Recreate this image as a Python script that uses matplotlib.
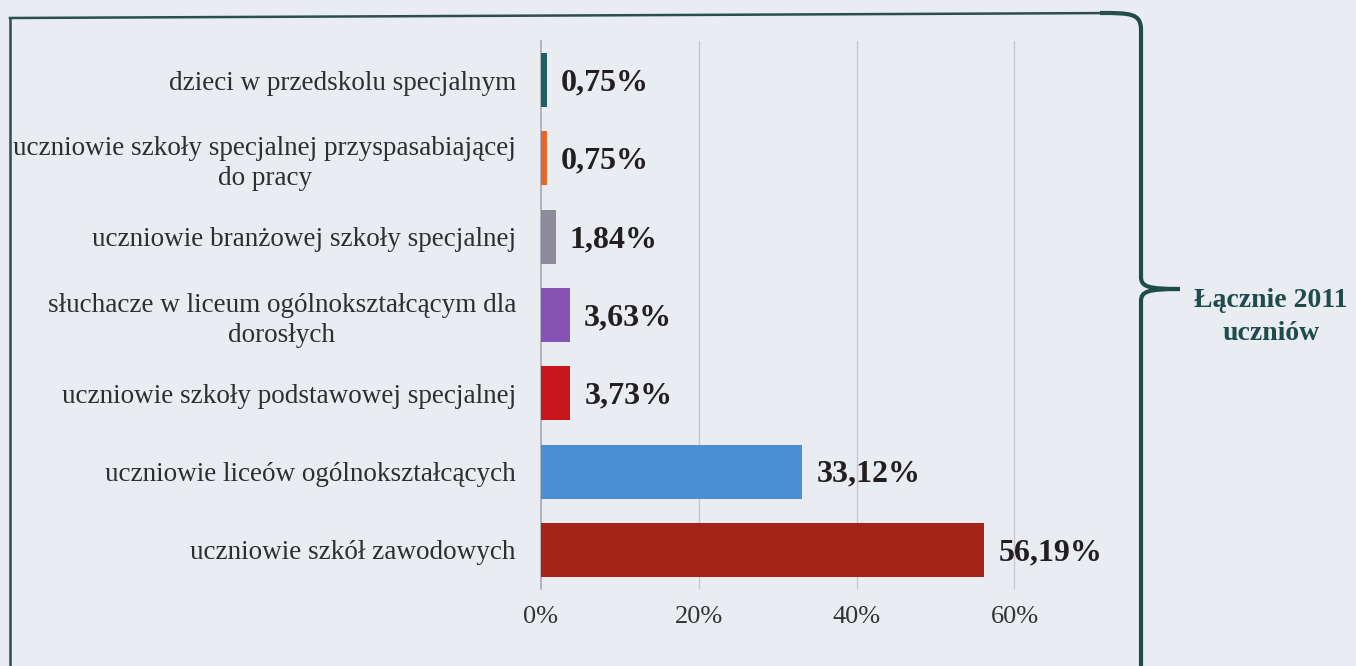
import numpy as np
import matplotlib.pyplot as plt
from matplotlib.path import Path
from matplotlib.patches import PathPatch

categories = [
    'dzieci w przedskolu specjalnym',
    'uczniowie szkoły specjalnej przyspasabiającej\ndo pracy',
    'uczniowie branżowej szkoły specjalnej',
    'słuchacze w liceum ogólnokształcącym dla\ndorosłych',
    'uczniowie szkoły podstawowej specjalnej',
    'uczniowie liceów ogólnokształcących',
    'uczniowie szkół zawodowych',
]
values = [0.75, 0.75, 1.84, 3.63, 3.73, 33.12, 56.19]
colors = ['#1F5F60', '#E8642C', '#8D8A9C', '#8653B5', '#C8161C', '#4A8FD4', '#A52418']
xticks = [0, 20, 40, 60]
total_label = 'Łącznie 2011\nuczniów'

paper = '#E9EDF2'
plt.rcParams['font.family'] = ['Liberation Serif', 'DejaVu Serif']

fig = plt.figure(figsize=(13.56, 6.66), dpi=100)
fig.patch.set_facecolor(paper)

W, H = 1356, 666
ax = fig.add_axes([541 / W, 1 - 589 / H, 505 / W, 548 / H])
ax.set_facecolor('none')

y = np.arange(len(categories))
ax.barh(y, values, height=0.69, color=colors, zorder=3)
ax.set_ylim(len(categories) - 0.5, -0.5)
ax.set_xlim(0, 64)

for yi, v in zip(y, values):
    ax.annotate(f'{v:.2f}'.replace('.', ',') + '%', (v, yi), xytext=(10, -2),
                textcoords='offset points', ha='left', va='center',
                fontsize=23, fontweight='bold', color='#231F20', zorder=4)

ax.set_yticks(y)
ax.set_yticklabels(categories, fontsize=19.5, color='#2E2E2E', linespacing=1.25)
for lbl in ax.get_yticklabels():
    lbl.set_multialignment('center')
ax.tick_params(axis='y', length=0, pad=18)

ax.set_xticks(xticks)
ax.set_xticklabels([f'{t}%' for t in xticks], fontsize=19, color='#333333')
ax.tick_params(axis='x', length=0, pad=12)

for t in xticks[1:]:
    ax.axvline(t, color='#D0C4CC', linewidth=1.0, zorder=1)

for s in ['top', 'right', 'bottom']:
    ax.spines[s].set_visible(False)
ax.spines['left'].set_color('#A8A8B0')
ax.spines['left'].set_linewidth(1.2)

# frame + brace drawn on an overlay in pixel coords
ov = fig.add_axes([0, 0, 1, 1], zorder=-1)
ov.set_xlim(0, W)
ov.set_ylim(H, 0)
ov.axis('off')
frame_col = '#2C4F48'
ov.plot([10, 1120], [18, 13], color=frame_col, linewidth=1.8)
ov.plot([10, 10], [18, H], color=frame_col, linewidth=1.8)

bx, tipx, tipy = 1141, 1180, 289
verts = [
    (1100, 13), (1130, 13), (1141, 13), (bx, 30),
    (bx, tipy - 12),
    (bx, tipy - 2), (bx + 8, tipy), (tipx, tipy),
    (bx + 8, tipy), (bx, tipy + 2), (bx, tipy + 12),
    (bx, H),
]
codes = [Path.MOVETO, Path.CURVE4, Path.CURVE4, Path.CURVE4,
         Path.LINETO,
         Path.CURVE4, Path.CURVE4, Path.CURVE4,
         Path.CURVE4, Path.CURVE4, Path.CURVE4,
         Path.LINETO]
ov.add_patch(PathPatch(Path(verts, codes), facecolor='none', edgecolor='#1E4D46', linewidth=3))

fig.text(1271 / W, 1 - 317 / H, total_label, ha='center', va='center', fontsize=20,
         fontweight='bold', color='#1E4B4B', linespacing=1.45)

plt.savefig('out.png', dpi=100, facecolor=paper)
